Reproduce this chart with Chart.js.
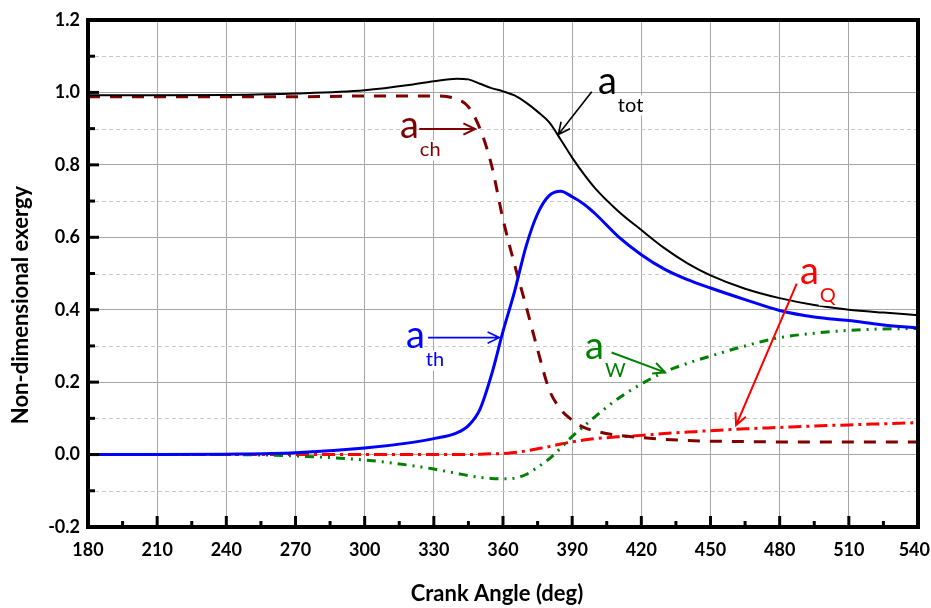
<!DOCTYPE html>
<html>
<head>
<meta charset="utf-8">
<script src="https://cdn.jsdelivr.net/npm/chart.js@4.4.1/dist/chart.umd.min.js"></script>
<style>
  html, body { margin: 0; padding: 0; background: #ffffff; }
  canvas { display: block; }
</style>
</head>
<body>
<canvas id="exergyChart" width="931" height="608"></canvas>
<script>
// crank angle samples (deg)
var crankAngle = [180, 210, 240, 270, 300, 320, 330, 340, 345, 350, 355, 360, 365, 370, 375,
                  380, 385, 390, 395, 400, 410, 420, 430, 440, 450, 465, 480, 495, 510, 525, 540];

// non-dimensional exergy terms
var aTot = [0.992, 0.992, 0.993, 0.997, 1.006, 1.021, 1.031, 1.038, 1.036, 1.024, 1.012, 1.003, 0.992, 0.972, 0.947,
            0.918, 0.870, 0.820, 0.775, 0.735, 0.672, 0.620, 0.570, 0.528, 0.495, 0.458, 0.432, 0.413, 0.400, 0.392, 0.385];
var aCh  = [0.988, 0.988, 0.988, 0.988, 0.990, 0.990, 0.990, 0.982, 0.960, 0.900, 0.800, 0.650, 0.525, 0.410, 0.290,
            0.180, 0.125, 0.095, 0.075, 0.065, 0.053, 0.047, 0.042, 0.039, 0.037, 0.036, 0.035, 0.035, 0.035, 0.035, 0.035];
var aTh  = [0.000, 0.000, 0.001, 0.005, 0.018, 0.033, 0.044, 0.060, 0.080, 0.125, 0.220, 0.340, 0.450, 0.575, 0.665,
            0.715, 0.727, 0.712, 0.692, 0.665, 0.602, 0.552, 0.512, 0.483, 0.460, 0.428, 0.398, 0.380, 0.370, 0.358, 0.350];
var aW   = [0.000, 0.000, 0.000, -0.004, -0.015, -0.030, -0.040, -0.052, -0.058, -0.063, -0.066, -0.067, -0.065, -0.055, -0.035,
            -0.012, 0.018, 0.050, 0.078, 0.105, 0.155, 0.195, 0.228, 0.252, 0.272, 0.300, 0.323, 0.335, 0.343, 0.347, 0.348];
var aQ   = [0.000, 0.000, 0.000, 0.000, 0.000, 0.000, 0.000, 0.000, 0.000, 0.001, 0.002, 0.003, 0.006, 0.010, 0.016,
            0.022, 0.029, 0.035, 0.040, 0.044, 0.049, 0.053, 0.058, 0.062, 0.066, 0.071, 0.075, 0.079, 0.082, 0.085, 0.088];

// minor tick positions
var xMinorTicks = [195, 225, 255, 285, 315, 345, 375, 405, 435, 465, 495, 525];
var yMinorTicks = [-0.1, 0.1, 0.3, 0.5, 0.7, 0.9, 1.1];

var FONT = 'Lato, "Open Sans", sans-serif';

// curve labels with arrows (data coordinates)
var curveLabels = [
    { text: 'a', sub: 'tot', color: '#000000', at: [401.2, 0.997], from: [398.5, 1.002], to: [384.0, 0.884], lw: 1.6 },
    { text: 'a', sub: 'ch',  color: '#800000', at: [315.3, 0.873], from: [323.7, 0.899], to: [347.9, 0.899], lw: 2 },
    { text: 'a', sub: 'th',  color: '#0000ff', at: [317.9, 0.293], from: [327.5, 0.323], to: [358.4, 0.323], lw: 1.6 },
    { text: 'a', sub: 'W',   color: '#008000', at: [395.6, 0.265], from: [407.1, 0.282], to: [430.3, 0.227], lw: 2 },
    { text: 'a', sub: 'Q',   color: '#ff0000', at: [488.8, 0.472], from: [487.4, 0.472], to: [461.1, 0.081], lw: 2 }
];

function pts(ys) {
    return crankAngle.map(function(x, i) { return { x: x, y: ys[i] }; });
}

function drawArrow(ctx, x1, y1, x2, y2) {
    var ang = Math.atan2(y2 - y1, x2 - x1);
    var len = 13, spread = 0.45;
    ctx.beginPath();
    ctx.moveTo(x1, y1);
    ctx.lineTo(x2, y2);
    ctx.moveTo(x2 - len * Math.cos(ang - spread), y2 - len * Math.sin(ang - spread));
    ctx.lineTo(x2, y2);
    ctx.lineTo(x2 - len * Math.cos(ang + spread), y2 - len * Math.sin(ang + spread));
    ctx.stroke();
}

var framePlugin = {
    id: 'framePlugin',
    beforeDatasetsDraw: function(chart) {
        var ctx = chart.ctx, a = chart.chartArea, y = chart.scales.y;
        ctx.save();
        ctx.strokeStyle = '#c8c8c8';
        ctx.lineWidth = 1;
        ctx.setLineDash([4, 3]);
        yMinorTicks.forEach(function(v) {
            var py = Math.round(y.getPixelForValue(v)) + 0.5;
            ctx.beginPath();
            ctx.moveTo(a.left, py);
            ctx.lineTo(a.right, py);
            ctx.stroke();
        });
        ctx.restore();
    },
    afterDatasetsDraw: function(chart) {
        var ctx = chart.ctx, a = chart.chartArea, x = chart.scales.x, y = chart.scales.y;
        ctx.save();

        // labels and arrows
        curveLabels.forEach(function(l) {
            var px = x.getPixelForValue(l.at[0]), py = y.getPixelForValue(l.at[1]);
            ctx.font = '38px ' + FONT;
            ctx.textBaseline = 'alphabetic';
            ctx.textAlign = 'left';
            var w = ctx.measureText(l.text).width;
            ctx.font = '20px ' + FONT;
            var sw = ctx.measureText(l.sub).width;
            ctx.fillStyle = '#ffffff';
            ctx.fillRect(px + w, py + 2, sw + 2, 20);
            ctx.fillStyle = l.color;
            ctx.fillText(l.sub, px + w + 1, py + 18);
            ctx.font = '38px ' + FONT;
            ctx.fillText(l.text, px, py);
            ctx.strokeStyle = l.color;
            ctx.lineWidth = l.lw;
            drawArrow(ctx, x.getPixelForValue(l.from[0]), y.getPixelForValue(l.from[1]),
                      x.getPixelForValue(l.to[0]), y.getPixelForValue(l.to[1]));
        });

        // inward tick marks
        ctx.strokeStyle = '#000000';
        ctx.lineWidth = 3;
        x.ticks.forEach(function(t) {
            var px = x.getPixelForValue(t.value);
            ctx.beginPath(); ctx.moveTo(px, a.bottom); ctx.lineTo(px, a.bottom - 11); ctx.stroke();
        });
        xMinorTicks.forEach(function(v) {
            var px = x.getPixelForValue(v);
            ctx.beginPath(); ctx.moveTo(px, a.bottom); ctx.lineTo(px, a.bottom - 6); ctx.stroke();
        });
        y.ticks.forEach(function(t) {
            var py = y.getPixelForValue(t.value);
            ctx.beginPath(); ctx.moveTo(a.left, py); ctx.lineTo(a.left + 11, py); ctx.stroke();
        });
        yMinorTicks.forEach(function(v) {
            var py = y.getPixelForValue(v);
            ctx.beginPath(); ctx.moveTo(a.left, py); ctx.lineTo(a.left + 7, py); ctx.stroke();
        });

        // heavy frame
        ctx.lineWidth = 4;
        ctx.strokeRect(a.left, a.top, a.right - a.left, a.bottom - a.top);

        // x tick labels, kept inside the canvas
        ctx.fillStyle = '#000000';
        ctx.font = 'bold 18px ' + FONT;
        ctx.textAlign = 'center';
        ctx.textBaseline = 'middle';
        x.ticks.forEach(function(t) {
            var lbl = String(t.value);
            var half = ctx.measureText(lbl).width / 2;
            var px = Math.min(x.getPixelForValue(t.value), chart.width - half - 1);
            ctx.fillText(lbl, px, a.bottom + 23);
        });

        // axis titles
        ctx.font = 'bold 22px ' + FONT;
        ctx.fillText('Crank Angle (deg)', 497, 594);
        ctx.translate(21, 305);
        ctx.rotate(-Math.PI / 2);
        ctx.fillText('Non-dimensional exergy', 0, 0);
        ctx.restore();
    }
};

var ctx = document.getElementById('exergyChart').getContext('2d');
new Chart(ctx, {
    type: 'line',
    data: {
        datasets: [
            { label: 'a_tot', data: pts(aTot), borderColor: '#000000', borderWidth: 2 },
            { label: 'a_th', data: pts(aTh), borderColor: '#0000ff', borderWidth: 3 },
            { label: 'a_ch', data: pts(aCh), borderColor: '#800000', borderWidth: 3, borderDash: [12, 10] },
            { label: 'a_W', data: pts(aW), borderColor: '#008000', borderWidth: 3, borderDash: [9, 6, 2, 6, 2, 6] },
            { label: 'a_Q', data: pts(aQ), borderColor: '#ff0000', borderWidth: 3, borderDash: [13, 5, 3, 5] }
        ]
    },
    options: {
        responsive: false,
        animation: false,
        events: [],
        elements: { point: { radius: 0 }, line: { cubicInterpolationMode: 'monotone', fill: false } },
        layout: { padding: { top: 20, right: 13, left: 0, bottom: 0 } },
        plugins: { legend: { display: false }, tooltip: { enabled: false } },
        scales: {
            x: {
                type: 'linear',
                min: 180,
                max: 540,
                afterFit: function(s) { s.height = 81; s.paddingLeft = 0; s.paddingRight = 0; },
                ticks: { stepSize: 30, display: false },
                grid: { color: '#a6a6a6', lineWidth: 1, drawTicks: false },
                border: { display: false }
            },
            y: {
                min: -0.2,
                max: 1.2,
                afterFit: function(s) { s.width = 88; s.paddingTop = 0; s.paddingBottom = 0; },
                ticks: {
                    stepSize: 0.2,
                    padding: 8,
                    color: '#000000',
                    font: { family: FONT, size: 18, weight: 'bold' },
                    callback: function(v) { return Math.abs(v) < 1e-9 ? '0.0' : v.toFixed(1); }
                },
                grid: { color: '#a6a6a6', lineWidth: 1, drawTicks: false },
                border: { display: false }
            }
        }
    },
    plugins: [framePlugin]
});
</script>
</body>
</html>
